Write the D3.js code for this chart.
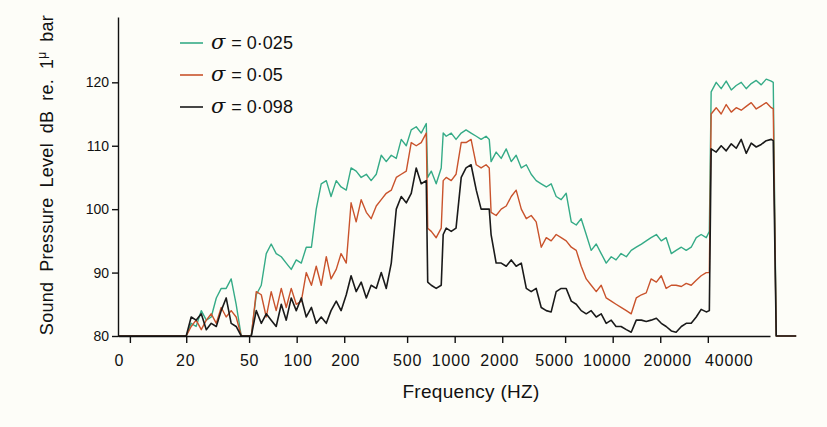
<!DOCTYPE html>
<html lang="en">
<head>
<meta charset="UTF-8">
<title>Sound Pressure Level vs Frequency</title>
<style>
  body { margin: 0; background: #fdfdf8; }
  svg { display: block; font-family: "Liberation Sans", Arial, sans-serif; }
</style>
</head>
<body>
<div id="chart"></div>
<script src="https://d3js.org/d3.v7.min.js"></script>
<script>
// frequencies (Hz) shared by the three traces
const freqs = [7.4, 20, 21.5, 23.1, 24.9, 26.8, 28.8, 31.0, 33.3, 35.8, 38.5,
  41.4, 44.6, 47.9, 51.6, 55.5, 59.7, 64.2, 69.0, 74.2, 79.9,
  85.9, 92.4, 99.4, 107, 115, 124, 133, 143, 154, 165,
  178, 191, 206, 221, 238, 256, 276, 296, 319, 343,
  369, 397, 427, 459, 494, 531, 571, 614, 661, 675,
  711, 764, 822, 846, 884, 951, 1020, 1100, 1180, 1270,
  1370, 1470, 1580, 1655, 1700, 1830, 1970, 2120, 2280, 2450,
  2640, 2840, 3050, 3280, 3530, 3800, 4080, 4390, 4720, 5080,
  5470, 5880, 6320, 6800, 7310, 7870, 8460, 9100, 9790, 10500,
  11300, 12200, 13100, 14100, 15200, 16300, 17500, 18900, 20300, 21800,
  23500, 25200, 27200, 29200, 31400, 33800, 36300, 39100, 40900, 42000,
  45200, 48600, 52300, 56300, 60500, 65100, 70000, 75300, 81000, 87100,
  93700, 100800, 103800, 108400, 145000];

// sound pressure level, dB, sigma = 0.025
const level025 = [80, 80, 82, 81.5, 84, 82.5, 83, 86, 87.5, 87.5, 89,
  85, 80, 80, 80, 86.5, 88, 93, 94.5, 93, 92.5,
  91.5, 90.5, 92, 91.5, 94, 94, 100, 104, 104.5, 102,
  104.5, 103.5, 103, 106.5, 106, 105, 105.5, 104.5, 105.5, 108.5,
  107.5, 108.5, 108, 111, 110, 112.5, 113, 112, 113.5, 105,
  106, 104, 106.5, 112, 111.5, 112, 111, 112, 112.5, 112,
  111.5, 111, 111.5, 111, 107.5, 109, 108, 109.5, 107.5, 108.5,
  106.5, 107, 105.5, 104.5, 104, 103.5, 104, 102, 101.5, 102.5,
  98, 97.5, 98.5, 96, 93.5, 94.5, 93, 91.5, 92.5, 92,
  93, 92.5, 93.5, 94, 94.5, 95, 95.5, 96, 95, 95.5,
  93, 93.5, 94, 93.5, 94, 95.5, 96, 95.5, 96.5, 118.5,
  120, 119, 120.2, 118.8, 119.5, 120, 119, 119.8, 120.3, 119.6,
  120.5, 120.2, 120, 80, 80];

// sigma = 0.05
const level05 = [80, 80, 81.5, 82.5, 81, 82.5, 83.5, 82, 84.5, 83, 84,
  83, 80, 80, 80, 87, 86.5, 83, 87, 84, 87.5,
  84.5, 87.5, 85, 85.5, 90, 88, 91, 88, 92.5, 89,
  90.5, 93, 91.5, 101, 98, 101.5, 99.5, 98.5, 100.5, 101.5,
  102.5, 103, 105, 105.5, 106, 110.5, 110, 110.5, 112, 97,
  96.5, 95.5, 97, 104.5, 105, 104.5, 105.5, 110.5, 110.5, 111,
  107, 106.5, 107, 106.5, 99.5, 99, 100, 100.5, 102, 103,
  100, 98.5, 99, 98, 94, 95.5, 95, 96, 95.5, 95,
  94, 93.5, 91, 89, 88, 87, 88, 86, 85.5, 85,
  84.5, 84, 83.5, 86, 86.5, 86.8, 89, 88.5, 89.5, 87.5,
  88, 88, 87.8, 88.3, 88, 88.8, 89.5, 90, 90, 115,
  116, 115, 116.5, 115.3, 116, 115.6, 116.2, 116.8, 115.8, 116.3,
  116.8, 116, 115.8, 80, 80];

// sigma = 0.098
const level098 = [80, 80, 83, 82.5, 83.5, 81, 82, 81.5, 84, 86, 82,
  81.5, 80, 80, 80, 84, 82, 83.5, 82.5, 81.5, 85,
  82.5, 86, 84, 86, 83, 84.5, 82, 83, 82, 84,
  85.5, 84, 86.5, 89.5, 87, 88.5, 86, 88, 87.5, 90,
  87.5, 91.5, 100, 102, 101, 102.5, 106.5, 104, 104.5, 88.5,
  88, 87.5, 88, 96, 97, 96.5, 97, 105, 106.5, 107,
  103, 100, 100, 100, 96, 91.5, 91.5, 91, 92, 91,
  91.5, 87.5, 87, 87.5, 84.5, 84, 83.8, 87, 87.5, 87.5,
  85.5, 85, 84, 83.5, 84, 83, 83.5, 82, 82.5, 81.5,
  81.5, 81, 80.6, 82.5, 82.5, 82.3, 82.5, 82.8, 82, 81.5,
  80.8, 80.6, 81.5, 82, 82, 83, 84.2, 83.8, 84, 109.5,
  109, 110, 109.2, 110.3, 109.6, 111, 108.8, 110.4, 109.8, 110.2,
  110.8, 111, 110.8, 80, 80];

const sigmaLabels = ["0·025", "0·05", "0·098"];
const colors = ["#35ab87", "#c9532c", "#1a1a1a"];

// "0" tick sits just right of the vertical axis
const tickFreqs = [8.8, 20, 50, 100, 200, 500, 1000, 2000, 5000, 10000, 20000, 40000];
const tickLabels = ["0", "20", "50", "100", "200", "500", "1000", "2000", "5000", "10000", "20000", "40000"];
const yTicks = [80, 90, 100, 110, 120];

const svg = d3.select("#chart").append("svg")
    .attr("width", 827)
    .attr("height", 427)
    .style("background-color", "#fdfdf8");

const x = d3.scaleLog().domain([7.4, 99000]).range([118, 770]);
const y = d3.scaleLinear().domain([80, 130.3]).range([336, 17]);

// traces
const line = d3.line()
    .x(d => x(d[0]))
    .y(d => y(d[1]));

[level025, level05, level098].forEach((lev, i) => {
  svg.append("path")
      .datum(d3.zip(freqs, lev))
      .attr("fill", "none")
      .attr("stroke", colors[i])
      .attr("stroke-width", i == 2 ? 1.6 : 1.4)
      .attr("stroke-linejoin", "round")
      .attr("d", line);
});

// axes
const xAxis = svg.append("g")
    .attr("transform", `translate(0,${y(80)})`)
    .call(d3.axisBottom(x)
        .tickValues(tickFreqs)
        .tickFormat((d, i) => tickLabels[i])
        .tickSize(7)
        .tickSizeOuter(0)
        .tickPadding(12));

const yAxis = svg.append("g")
    .attr("transform", `translate(${x(7.4)},0)`)
    .call(d3.axisLeft(y)
        .tickValues(yTicks)
        .tickSize(6)
        .tickSizeOuter(0)
        .tickPadding(3));

[xAxis, yAxis].forEach(g => {
  g.attr("font-family", null).attr("font-size", null);
  g.selectAll("path, line").attr("stroke", "#111").attr("stroke-width", 1.4);
  g.selectAll("text").attr("fill", "#111").style("font-size", "14px");
});

// the printed labels are not quite centred under their ticks
const labelNudge = [-11, -1, 0, 1, 1, 0, -4, -3, -11, -6, 7, 21];
xAxis.selectAll(".tick text")
    .style("font-size", "16px")
    .style("letter-spacing", "0.8px")
    .attr("dx", (d, i) => labelNudge[i]);

// axis titles
svg.append("text")
    .attr("x", 471)
    .attr("y", 398)
    .attr("text-anchor", "middle")
    .attr("fill", "#111")
    .style("font-size", "19px")
    .style("letter-spacing", "0.3px")
    .text("Frequency (HZ)");

const ylab = svg.append("text")
    .attr("transform", "translate(53,175) rotate(-90)")
    .attr("text-anchor", "middle")
    .attr("fill", "#111")
    .style("font-size", "18px")
    .style("letter-spacing", "0.3px")
    .style("word-spacing", "4.5px");
ylab.append("tspan").text("Sound Pressure Level dB re. 1");
ylab.append("tspan").attr("dy", -7).style("font-size", "12px").text("μ");
ylab.append("tspan").attr("dy", 7).text(" bar");

// legend
sigmaLabels.forEach((s, i) => {
  const ly = 43 + i * 32;
  svg.append("line")
      .attr("x1", 180).attr("x2", 203)
      .attr("y1", ly).attr("y2", ly)
      .attr("stroke", colors[i])
      .attr("stroke-width", 1.6);
  const t = svg.append("text")
      .attr("x", 211)
      .attr("y", ly + 6)
      .attr("fill", "#111")
      .style("font-size", "18px");
  t.append("tspan")
      .style("font-family", "'DejaVu Serif', serif")
      .style("font-style", "italic")
      .style("font-size", "21px")
      .text("σ");
  t.append("tspan").attr("dx", 6).text("=  " + s);
});
</script>
</body>
</html>
